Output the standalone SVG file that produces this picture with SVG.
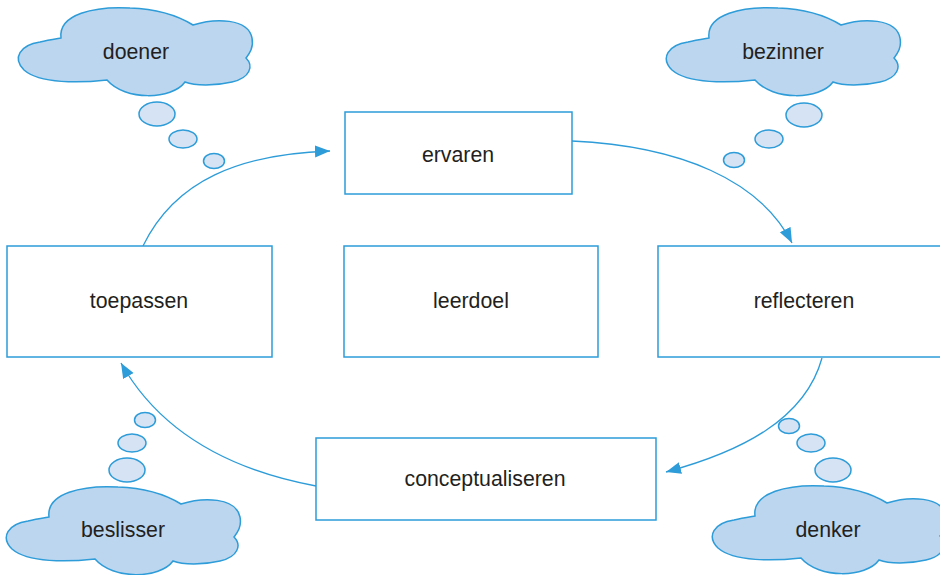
<svg xmlns="http://www.w3.org/2000/svg" xmlns:xlink="http://www.w3.org/1999/xlink" width="940" height="575" viewBox="0 0 940 575">
<style>
.box{fill:#ffffff;stroke:#2d9cd8;stroke-width:1.5}
.cloud{fill:#bcd6f0;stroke:#2d9cd8;stroke-width:1.5}
.bub{fill:#d6e3f4;stroke:#2d9cd8;stroke-width:1.5}
.lbl{font-family:"Liberation Sans",Arial,sans-serif;font-size:21.3px;fill:#231f20;text-anchor:middle}
.con{fill:none;stroke:#2d9cd8;stroke-width:1.3;marker-end:url(#ah)}
</style>
<defs>
<marker id="ah" markerUnits="userSpaceOnUse" markerWidth="16" markerHeight="14" refX="15" refY="6" orient="auto">
<path d="M0,0 L15,6 L0,12 Z" fill="#2d9cd8"/>
</marker>
<path id="cl" d="M61,38 C58,14 95,6 130,8 C160,9 180,17 193,25 C215,18 248,18 252,38 C254,48 249,54 246,58 C254,66 250,78 232,82 C215,86 195,86 185,82 C172,100 125,101 107,80 C80,83 40,84 24,70 C12,58 20,45 40,42 C48,40 55,39 61,38 Z"/>
</defs>
<g id="connectors">
<path class="con" d="M143,246 C175,180 240,154 330,151"/>
<path class="con" d="M572,141 C680,146 760,180 792,243"/>
<path class="con" d="M822,358 C805,420 740,452 666,472"/>
<path class="con" d="M316,486 C230,470 160,432 121,363"/>
</g>
<g id="ervaren"><rect class="box" x="345" y="112" width="227" height="82"/><text class="lbl" x="458" y="162">ervaren</text></g>
<g id="toepassen"><rect class="box" x="7" y="246" width="265" height="111"/><text class="lbl" x="139" y="308">toepassen</text></g>
<g id="leerdoel"><rect class="box" x="344" y="246" width="254" height="111"/><text class="lbl" x="471" y="308">leerdoel</text></g>
<g id="reflecteren"><rect class="box" x="658" y="246" width="290" height="111"/><text class="lbl" x="804" y="308">reflecteren</text></g>
<g id="conceptualiseren"><rect class="box" x="316" y="438" width="340" height="82"/><text class="lbl" x="485" y="486">conceptualiseren</text></g>
<g id="doener">
<use xlink:href="#cl" class="cloud"/>
<ellipse class="bub" cx="157" cy="114" rx="18" ry="12"/>
<ellipse class="bub" cx="183" cy="139" rx="14" ry="9"/>
<ellipse class="bub" cx="214" cy="161" rx="10.5" ry="7.5"/>
<text class="lbl" x="136" y="59">doener</text>
</g>
<g id="bezinner">
<use xlink:href="#cl" class="cloud" transform="translate(648,0)"/>
<ellipse class="bub" cx="804" cy="115" rx="18" ry="12"/>
<ellipse class="bub" cx="769" cy="139" rx="14" ry="9"/>
<ellipse class="bub" cx="734" cy="160" rx="10.5" ry="7.5"/>
<text class="lbl" x="783" y="59">bezinner</text>
</g>
<g id="beslisser">
<use xlink:href="#cl" class="cloud" transform="translate(-12,479)"/>
<ellipse class="bub" cx="145" cy="420" rx="10.5" ry="7.5"/>
<ellipse class="bub" cx="132" cy="443" rx="14" ry="9"/>
<ellipse class="bub" cx="127" cy="470" rx="18" ry="12"/>
<text class="lbl" x="123" y="537">beslisser</text>
</g>
<g id="denker">
<use xlink:href="#cl" class="cloud" transform="translate(694,478)"/>
<ellipse class="bub" cx="789" cy="426" rx="10.5" ry="7.5"/>
<ellipse class="bub" cx="811" cy="443" rx="14" ry="9"/>
<ellipse class="bub" cx="833" cy="470" rx="18" ry="12"/>
<text class="lbl" x="828" y="537">denker</text>
</g>
</svg>
